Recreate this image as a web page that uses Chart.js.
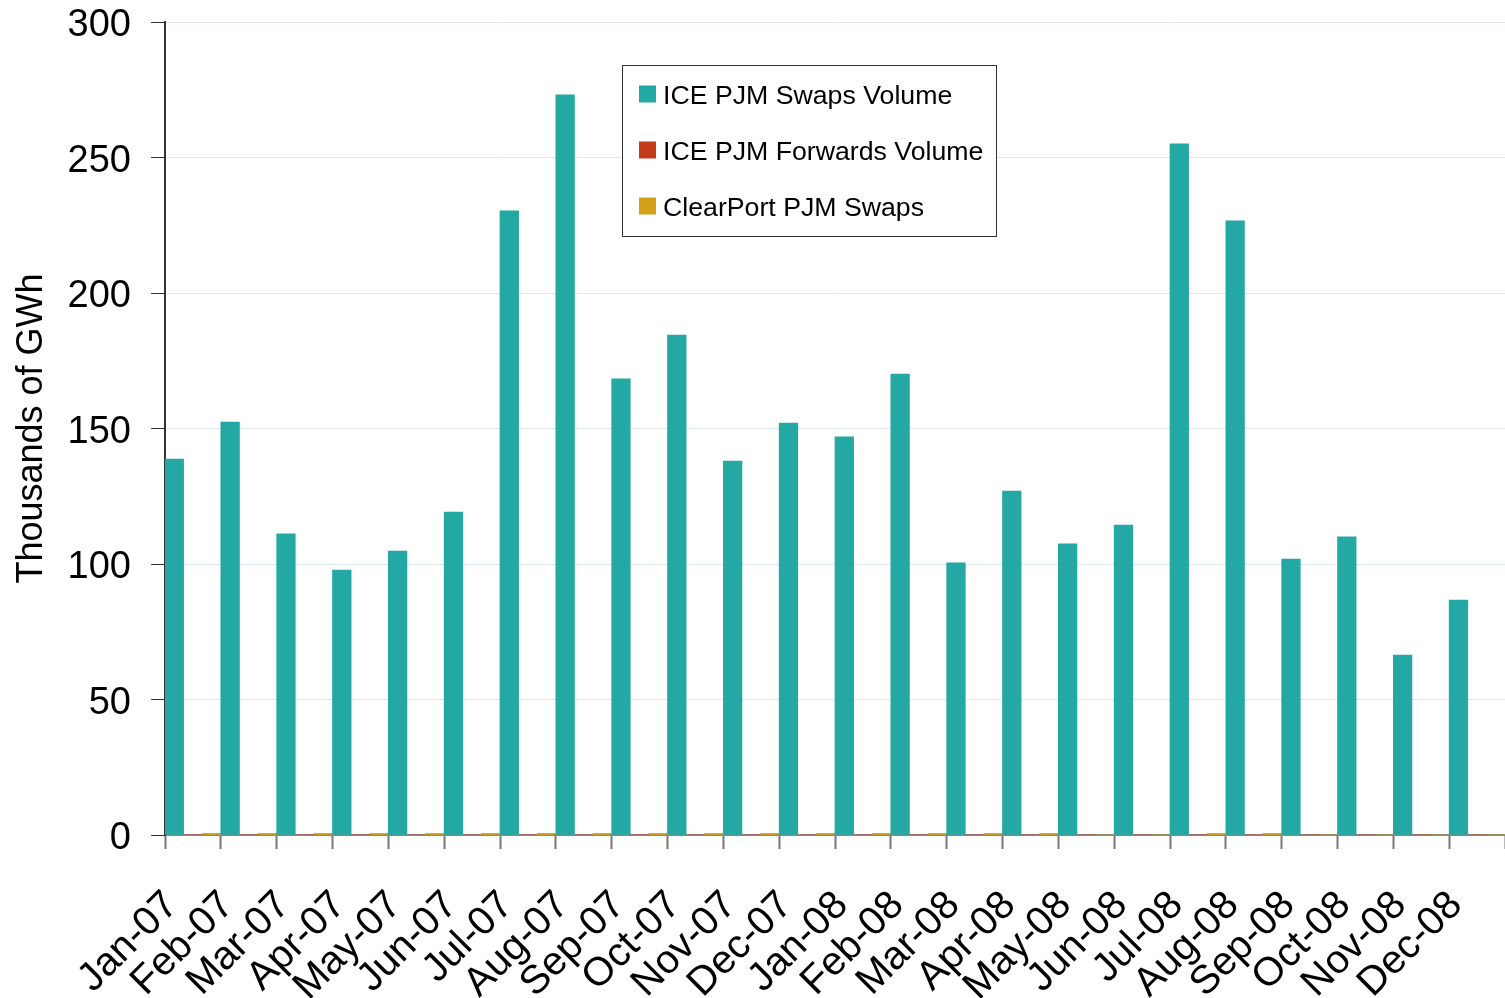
<!DOCTYPE html>
<html>
<head>
<meta charset="utf-8">
<script src="https://cdn.jsdelivr.net/npm/chart.js@4.4.1/dist/chart.umd.min.js"></script>
<style>
  html, body { margin: 0; padding: 0; background: #fff; }
  #wrap { width: 1505px; height: 998px; }
</style>
</head>
<body>
<div id="wrap"><canvas id="chart" width="1505" height="998"></canvas></div>
<script>
const months = [
  "Jan-07", "Feb-07", "Mar-07", "Apr-07", "May-07", "Jun-07",
  "Jul-07", "Aug-07", "Sep-07", "Oct-07", "Nov-07", "Dec-07",
  "Jan-08", "Feb-08", "Mar-08", "Apr-08", "May-08", "Jun-08",
  "Jul-08", "Aug-08", "Sep-08", "Oct-08", "Nov-08", "Dec-08"
];

// thousands of GWh
const iceSwaps = [
  138.7, 152.4, 111.1, 97.8, 104.8, 119.2,
  230.3, 273.1, 168.3, 184.5, 138.0, 152.0,
  146.9, 170.1, 100.4, 126.9, 107.4, 114.4,
  255.0, 226.6, 101.8, 110.0, 66.4, 86.7
];
const iceForwards = [
  0, 0, 0, 0, 0, 0, 0, 0, 0, 0, 0, 0,
  0, 0, 0, 0, 0, 0, 0, 0, 0, 0, 0, 0
];
const clearportSwaps = [
  0.6, 0.6, 0.6, 0.6, 0.6, 0.6, 0.6, 0.6, 0.6, 0.6, 0.6, 0.6,
  0.6, 0.6, 0.6, 0.6, 0, 0, 0.6, 0.6, 0, 0, 0, 0
];

const yTicks = [0, 50, 100, 150, 200, 250, 300];

const FONT = "'Liberation Sans', Arial, sans-serif";

// legend box drawn inside the plot, like the original
const boxLegend = {
  id: "boxLegend",
  afterDraw(chart) {
    const ctx = chart.ctx;
    const area = chart.chartArea;
    const x = area.left + 457.5, y = 65.5, w = 374, h = 171;
    ctx.save();
    ctx.fillStyle = "#fff";
    ctx.fillRect(x, y, w, h);
    ctx.strokeStyle = "#333";
    ctx.lineWidth = 1;
    ctx.strokeRect(x, y, w, h);
    ctx.font = "26.7px " + FONT;
    ctx.textBaseline = "middle";
    chart.data.datasets.forEach((ds, i) => {
      const cy = y + 28.5 + i * 56;
      ctx.fillStyle = ds.backgroundColor;
      ctx.fillRect(x + 16.5, cy - 8.5, 17, 17);
      ctx.fillStyle = "#000";
      ctx.fillText(ds.label, x + 40.5, cy + 2.5);
    });
    ctx.restore();
  }
};

new Chart(document.getElementById("chart").getContext("2d"), {
  type: "bar",
  data: {
    labels: months,
    datasets: [
      { label: "ICE PJM Swaps Volume", data: iceSwaps, backgroundColor: "#23a8a3" },
      { label: "ICE PJM Forwards Volume", data: iceForwards, backgroundColor: "#c63b1c" },
      { label: "ClearPort PJM Swaps", data: clearportSwaps, backgroundColor: "#d4a017" }
    ]
  },
  options: {
    responsive: false,
    animation: false,
    datasets: { bar: { barPercentage: 1, categoryPercentage: 1 } },
    layout: { padding: 0 },
    plugins: { legend: { display: false }, tooltip: { enabled: false } },
    scales: {
      x: {
        offset: true,
        grid: {
          offset: true,
          drawOnChartArea: false,
          tickLength: 14,
          tickColor: "#777",
          tickWidth: 2
        },
        border: { color: "#888", width: 2 },
        ticks: {
          color: "#000",
          font: { family: FONT, size: 40 },
          minRotation: 45,
          maxRotation: 45,
          autoSkip: false,
          labelOffset: -21,
          padding: 33
        },
        afterFit(axis) {
          axis.height = 163;
          axis.paddingLeft = 0;
          axis.paddingRight = 0;
        }
      },
      y: {
        min: 0,
        max: 300,
        afterBuildTicks(axis) { axis.ticks = yTicks.map(v => ({ value: v })); },
        grid: {
          color: "#d9e8e8",
          tickColor: "#333",
          tickLength: 14,
          drawTicks: true
        },
        border: { color: "#333", width: 2 },
        ticks: {
          color: "#000",
          font: { family: FONT, size: 38 },
          padding: 20,
          labelOffset: 4
        },
        title: {
          display: true,
          text: "Thousands of GWh",
          color: "#000",
          font: { family: FONT, size: 36 },
          padding: { top: 10, bottom: 0 }
        },
        afterFit(axis) {
          axis.width = 165;
          axis.paddingTop = 22;
          axis.paddingBottom = 0;
        }
      }
    }
  },
  plugins: [boxLegend]
});
</script>
</body>
</html>
